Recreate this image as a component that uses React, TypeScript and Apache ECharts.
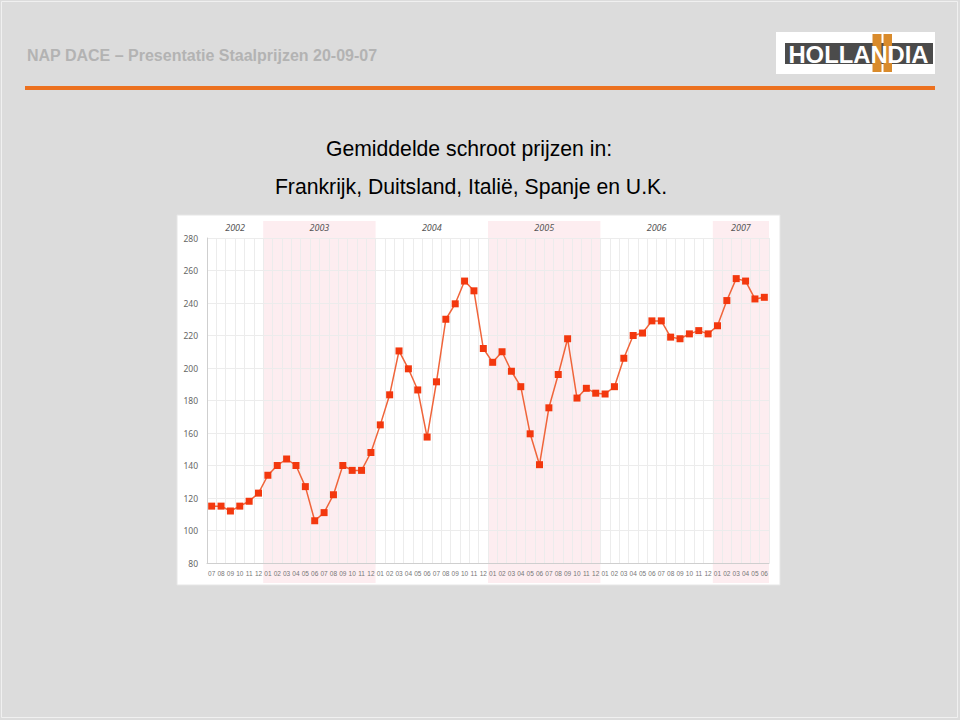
import React, { useEffect, useRef } from "react";
import * as echarts from "echarts";

const categories = [
  "2002-07","2002-08","2002-09","2002-10","2002-11","2002-12",
  "2003-01","2003-02","2003-03","2003-04","2003-05","2003-06","2003-07","2003-08","2003-09","2003-10","2003-11","2003-12",
  "2004-01","2004-02","2004-03","2004-04","2004-05","2004-06","2004-07","2004-08","2004-09","2004-10","2004-11","2004-12",
  "2005-01","2005-02","2005-03","2005-04","2005-05","2005-06","2005-07","2005-08","2005-09","2005-10","2005-11","2005-12",
  "2006-01","2006-02","2006-03","2006-04","2006-05","2006-06","2006-07","2006-08","2006-09","2006-10","2006-11","2006-12",
  "2007-01","2007-02","2007-03","2007-04","2007-05","2007-06",
];

const prices = [
  115, 115, 112, 115, 118, 123,
  134, 140, 144, 140, 127, 106, 111, 122, 140, 137, 137, 148,
  165, 183.5, 210.5, 199.5, 186.5, 157.5, 191.5, 230, 239.5, 253.5, 247.5, 212,
  203.5, 210, 198, 188.5, 159.5, 140.5, 175.5, 196, 218, 181.5, 187.5, 184.5,
  184, 188.5, 206, 220, 221.5, 229, 229, 219, 218, 221, 223, 221,
  226, 241.5, 255, 253.5, 242.5, 243.5,
];

const years = ["2002", "2003", "2004", "2005", "2006", "2007"];
const highlightedYears = ["2003", "2005", "2007"];
const yTicks = { min: 80, max: 280, interval: 20 };

const headerText = "NAP DACE \u2013 Presentatie Staalprijzen 20-09-07";
const titleLine1 = "Gemiddelde schroot prijzen in:";
const titleLine2 = "Frankrijk, Duitsland, Itali\u00eb, Spanje en U.K.";
const logoText = "HOLLANDIA";

export default function App() {
  const ref = useRef<HTMLDivElement>(null);

  useEffect(() => {
    if (!ref.current) return;
    const chart = echarts.init(ref.current, null, { renderer: "svg" });

    const yearAreas = years.map((y) => {
      const first = categories.findIndex((c) => c.startsWith(y));
      let last = first;
      categories.forEach((c, i) => {
        if (c.startsWith(y)) last = i;
      });
      const pink = highlightedYears.includes(y);
      return [
        {
          xAxis: first,
          name: y,
          itemStyle: { color: pink ? "#fdedf0" : "rgba(255,255,255,0)" },
          label: {
            show: true,
            position: "insideTop",
            distance: 2,
            formatter: y,
            fontStyle: "italic",
            fontSize: 9,
            color: "#555",
            fontFamily: "Noto Sans",
          },
        },
        { xAxis: last + 1 },
      ];
    });

    const titleFont = "21.2px 'Liberation Sans', Arial, sans-serif";

    const option: any = {
      animation: false,
      backgroundColor: "#dcdcdc",
      graphic: [
        {
          type: "rect",
          z: -200,
          shape: { x: 1.5, y: 1.5, width: 956, height: 716 },
          style: { fill: "none", stroke: "#f0f0f0", lineWidth: 1 },
          silent: true,
        },
        {
          type: "text",
          x: 27,
          y: 55,
          style: {
            text: headerText,
            font: "bold 16px 'Liberation Sans', Arial, sans-serif",
            fill: "#b3b3b3",
            textVerticalAlign: "middle",
          },
        },
        {
          type: "rect",
          shape: { x: 25, y: 86, width: 910, height: 4 },
          style: { fill: "#ec711f" },
        },
        // logo
        {
          type: "rect",
          shape: { x: 776, y: 32, width: 159, height: 42 },
          style: { fill: "#ffffff" },
        },
        {
          type: "rect",
          shape: { x: 785, y: 43, width: 148, height: 21 },
          style: { fill: "#4b4b4b" },
        },
        {
          type: "rect",
          shape: { x: 872.5, y: 34, width: 9, height: 38 },
          style: { fill: "#d98b2c" },
        },
        {
          type: "rect",
          shape: { x: 883.5, y: 34, width: 8.5, height: 38 },
          style: { fill: "#d98b2c" },
        },
        {
          type: "text",
          x: 858.5,
          y: 54,
          style: {
            text: logoText,
            font: "bold 23.8px 'Liberation Sans', Arial, sans-serif",
            fill: "#ffffff",
            textAlign: "center",
            textVerticalAlign: "middle",
          },
        },
        // titles
        {
          type: "text",
          x: 469,
          y: 148,
          style: {
            text: titleLine1,
            font: titleFont,
            fill: "#000",
            textAlign: "center",
            textVerticalAlign: "middle",
          },
        },
        {
          type: "text",
          x: 471,
          y: 186,
          style: {
            text: titleLine2,
            font: titleFont,
            fill: "#000",
            textAlign: "center",
            textVerticalAlign: "middle",
          },
        },
        // chart panel
        {
          type: "rect",
          z: -100,
          shape: { x: 177, y: 215, width: 603, height: 370 },
          style: { fill: "#ffffff", stroke: "#e6e6e6", lineWidth: 1 },
          silent: true,
        },
      ],
      grid: [
        { left: 207, right: 191, top: 221, bottom: 137 },
        { left: 207, right: 191, top: 238, bottom: 157 },
      ],
      xAxis: [
        {
          gridIndex: 0,
          type: "value",
          min: 0,
          max: categories.length,
          show: false,
        },
        {
          gridIndex: 1,
          type: "category",
          data: categories,
          boundaryGap: true,
          axisTick: { show: false },
          axisLine: { show: true, lineStyle: { color: "#cfcfcf", width: 1 } },
          axisLabel: {
            interval: 0,
            formatter: (v: string) => v.slice(5),
            fontSize: 6.5,
            color: "#777",
            margin: 7,
            fontFamily: "Liberation Sans",
          },
          splitLine: { show: true, lineStyle: { color: "#ececec", width: 1 } },
        },
      ],
      yAxis: [
        {
          gridIndex: 0,
          type: "value",
          min: 0,
          max: 1,
          show: false,
        },
        {
          gridIndex: 1,
          type: "value",
          min: yTicks.min,
          max: yTicks.max,
          interval: yTicks.interval,
          axisLine: { show: true, lineStyle: { color: "#cfcfcf", width: 1 } },
          axisTick: { show: false },
          axisLabel: {
            fontSize: 8.5,
            color: "#666",
            margin: 9,
            fontFamily: "Noto Sans",
          },
          splitLine: { show: true, lineStyle: { color: "#ececec", width: 1 } },
        },
      ],
      series: [
        {
          type: "line",
          xAxisIndex: 0,
          yAxisIndex: 0,
          data: [],
          z: -1,
          silent: true,
          markArea: {
            silent: true,
            z: -1,
            data: yearAreas,
          },
        },
        {
          type: "line",
          xAxisIndex: 1,
          yAxisIndex: 1,
          data: prices,
          symbol: "rect",
          symbolSize: 7,
          showAllSymbol: true,
          lineStyle: { color: "#f0643a", width: 1.5 },
          itemStyle: { color: "#f3380e" },
          z: 5,
        },
      ],
    };

    chart.setOption(option);
    return () => chart.dispose();
  }, []);

  return (
    <div
      ref={ref}
      style={{ position: "absolute", left: 0, top: 0, width: 960, height: 720 }}
    />
  );
}
